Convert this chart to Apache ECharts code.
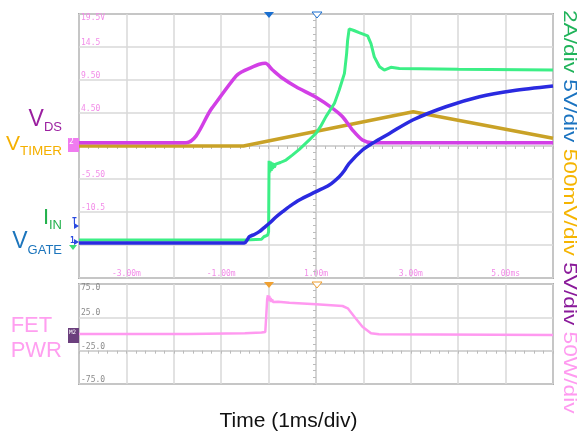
<!DOCTYPE html>
<html>
<head>
<meta charset="utf-8">
<script src="https://cdn.jsdelivr.net/npm/echarts@6/dist/echarts.min.js"></script>
<style>
html,body{margin:0;padding:0;background:#fff;}
#chart{width:577px;height:437px;}
</style>
</head>
<body>
<div id="chart"></div>
<script>
// ---- data (time in ms, values in channel units) ----
const vdsData = [[-4,0],[-1.743,0],[-1.2,5.2],[-0.688,10.1],[-0.55,10.8],[-0.407,11.27],[-0.196,11.88],[-0.07,12.03],[0.084,11.02],[0.295,9.76],[0.578,8.48],[1.0,6.88],[1.35,5.21],[1.56,3.94],[1.77,1.92],[1.98,0.41],[2.19,0],[6,0]];
const vtimerData = [[-4,0],[-0.53,0],[3.05,0.52],[6,0.117]];
const iinData = [[-4,0.1],[-0.5,0.1],[-0.15,0.15],[-0.1,0.3],[-0.02,0.4],[0.0,0.6],[0.01,4.9],[0.025,4.2],[0.04,4.85],[0.055,4.3],[0.07,4.8],[0.085,4.4],[0.1,4.75],[0.12,4.5],[0.15,4.7],[0.25,4.8],[0.367,4.95],[0.5,5.25],[0.648,5.6],[0.859,6.17],[1.0,6.57],[1.1,7.0],[1.21,7.58],[1.39,8.39],[1.49,9.19],[1.6,10.2],[1.646,11.4],[1.667,12.2],[1.70,12.9],[1.8,12.8],[1.91,12.67],[2.09,12.47],[2.16,12.0],[2.23,11.2],[2.34,10.6],[2.44,10.4],[2.58,10.57],[2.76,10.5],[4,10.45],[6,10.4]];
const vgateData = [[-4,0],[-0.513,0],[-0.45,0.5],[-0.407,0.96],[-0.3,1.3],[-0.196,1.72],[-0.1,2.3],[0.015,2.99],[0.15,3.9],[0.295,4.75],[0.45,5.6],[0.648,6.52],[1.0,7.78],[1.28,8.79],[1.49,10.05],[1.6,11.0],[1.70,12.08],[1.98,14.1],[2.19,15.1],[2.55,16.6],[3.04,18.64],[3.74,20.65],[4.45,22.17],[5.15,23.08],[6,23.79]];
const fetPwrData = [[-4,0],[-1.7,0],[-0.5,1.2],[-0.15,2.2],[-0.07,3],[-0.055,21],[-0.03,52],[-0.015,58],[0.0,50],[0.015,57],[0.03,49],[0.045,54],[0.06,48],[0.075,52],[0.09,48],[0.12,50],[0.2,48.5],[0.437,47],[1.0,44.5],[1.56,42],[1.67,38.5],[1.81,26],[1.98,11],[2.16,1],[2.33,-0.5],[6,-1.5]];

// tick labels
const xLabelValues = [-3,-1,1,3,5];
const xLabelTexts = ['-3.00m','-1.00m','1.00m','3.00m','5.00ms'];
const topYLabelTexts = ['','','-10.5','-5.50','','4.50','9.50','14.5','19.5V']; // divisions -4..4
const botYLabelTexts = ['-75.0','-25.0','25.0','75.0'];                        // divisions 0..3
const scaleTexts = ['2A/div','5V/div','500mV/div','5V/div','50W/div'];

// ---- styles ----
const C = {
  vds:'#d23fe6', vtimer:'#c9a227', iin:'#3cef86', vgate:'#2a2ae0', pwr:'#ff99f0',
  lblVds:'#9b1fa0', lblTimer:'#f5b000', lblIin:'#22b14c', lblGate:'#1c75bc', lblPwr:'#ff9ff0'
};
const gridLine = {show:true, lineStyle:{color:'#d9d9d9', width:1.5}};
const monoFont = 'DejaVu Sans Mono';

function hiddenY(grid, min, max){ return {gridIndex:grid, type:'value', min:min, max:max, show:false, axisLine:{onZero:false}}; }
function hiddenX(grid, min, max){ return {gridIndex:grid, type:'value', min:min, max:max, show:false, axisLine:{onZero:false}}; }
function tickLine(grid, min, max, zeroIdx){
  return {gridIndex:grid, type:'value', min:min, max:max, interval:1,
    axisLine:{show:true, onZero:true, onZeroAxisIndex:zeroIdx, lineStyle:{color:'#d0d0d0', width:1.5}},
    axisTick:{show:true, inside:true, length:3, lineStyle:{color:'#bbb'}},
    minorTick:{show:true, splitNumber:5, length:3, lineStyle:{color:'#bbb'}},
    axisLabel:{show:false}, splitLine:{show:false}, z:1};
}

const xAxes = [
  {gridIndex:0, type:'value', min:-4, max:6, interval:1, position:'bottom',
   axisLine:{show:false, onZero:false}, axisTick:{show:false}, splitLine:gridLine,
   axisLabel:{inside:true, margin:0, fontFamily:monoFont, fontSize:8, color:'#f28ce8',
     formatter:v=>{const i=xLabelValues.indexOf(Math.round(v)); return i>=0?xLabelTexts[i]:'';}}},
  hiddenX(0,-5,5),
  tickLine(0,-4,6,0),
  {gridIndex:1, type:'value', min:-4, max:6, interval:1, position:'bottom',
   axisLine:{show:false, onZero:false}, axisTick:{show:false}, splitLine:gridLine, axisLabel:{show:false}},
  hiddenX(1,-5,5),
  tickLine(1,-4,6,9)
];
const yAxes = [
  {gridIndex:0, type:'value', min:-4, max:4, interval:1, position:'left',
   axisLine:{show:false, onZero:false}, axisTick:{show:false}, splitLine:gridLine,
   axisLabel:{inside:true, margin:2, verticalAlign:'bottom', fontFamily:monoFont, fontSize:8, color:'#f28ce8',
     formatter:v=>(Math.round(v)===4?'':topYLabelTexts[Math.round(v)+4])}},
  {gridIndex:0, type:'value', min:-4, max:4, interval:1, position:'left',
   axisLine:{show:false, onZero:false}, axisTick:{show:false}, splitLine:{show:false},
   axisLabel:{inside:true, margin:2, verticalAlign:'top', fontFamily:monoFont, fontSize:8, color:'#f28ce8',
     formatter:v=>(Math.round(v)===4?topYLabelTexts[8]:'')}},
  tickLine(0,-4,4,1),
  hiddenY(0,-20.5,19.5),   // 3 VDS 5V/div
  hiddenY(0,-2,2),         // 4 VTIMER 500mV/div
  hiddenY(0,-2.2,13.8),    // 5 IIN 2A/div
  hiddenY(0,-5.3,34.7),    // 6 VGATE 5V/div
  {gridIndex:1, type:'value', min:0, max:3, interval:1, position:'left',
   axisLine:{show:false, onZero:false}, axisTick:{show:false}, splitLine:gridLine,
   axisLabel:{inside:true, margin:2, verticalAlign:'bottom', fontFamily:monoFont, fontSize:8, color:'#8a8a8a',
     formatter:v=>(Math.round(v)===3?'':botYLabelTexts[Math.round(v)])}},
  {gridIndex:1, type:'value', min:0, max:3, interval:1, position:'left',
   axisLine:{show:false, onZero:false}, axisTick:{show:false}, splitLine:{show:false},
   axisLabel:{inside:true, margin:2, verticalAlign:'top', fontFamily:monoFont, fontSize:8, color:'#8a8a8a',
     formatter:v=>(Math.round(v)===3?botYLabelTexts[3]:'')}},
  hiddenY(1,-1,2),         // 9 ref (zero at centre tick line)
  tickLine(1,-1.5,1.5,4),
  hiddenY(1,-75,75)        // 11 FET PWR 50W/div
];

function line(name, data, xi, yi, color, width, smooth){
  return {name:name, type:'line', data:data, xAxisIndex:xi, yAxisIndex:yi, showSymbol:false,
    smooth:smooth||false, lineStyle:{color:color, width:width}, itemStyle:{color:color}, z:5, silent:true};
}

function leftLabel(main, sub, color, right, baseline, mainSize, subSize){
  return {type:'text', right:577-right, top:baseline-mainSize*0.93, z:20,
    style:{text:'{a|'+main+'}{b|'+sub+'}', fill:color,
      rich:{a:{fontFamily:'Liberation Sans', fontSize:mainSize, fill:color, verticalAlign:'bottom'},
            b:{fontFamily:'Liberation Sans', fontSize:subSize, fill:color, verticalAlign:'bottom', padding:[0,0,-3,0]}}}};
}

const rs = 22.7;
const graphics = [
  leftLabel('V','DS',C.lblVds,62,129.5,23,13),
  leftLabel('V','TIMER',C.lblTimer,62,153.5,21,13.5),
  leftLabel('I','IN',C.lblIin,62,227,22,13),
  leftLabel('V','GATE',C.lblGate,62,252,23,13),
  {type:'text', right:515, top:313, z:20, style:{text:'FET\nPWR', fill:C.lblPwr, font:'22px Liberation Sans', align:'right', lineHeight:25}},
  // right side scale texts (rotated, slightly compressed across)
  {type:'text', x:579, y:10, rotation:-Math.PI/2, scaleY:0.82, z:20,
    style:{text:'{g|'+scaleTexts[0]+'} {b|'+scaleTexts[1]+'} {o|'+scaleTexts[2]+'} {p|'+scaleTexts[3]+'} {k|'+scaleTexts[4]+'}',
      font:rs+'px Liberation Sans', align:'left', verticalAlign:'top',
      rich:{g:{fill:'#1fb35a',fontSize:rs,fontFamily:'Liberation Sans'},b:{fill:'#1a73c0',fontSize:rs,fontFamily:'Liberation Sans'},
            o:{fill:'#f5b400',fontSize:rs,fontFamily:'Liberation Sans'},p:{fill:'#8a1a9a',fontSize:rs,fontFamily:'Liberation Sans'},
            k:{fill:'#ff9af0',fontSize:rs,fontFamily:'Liberation Sans'}}}},
  // x title
  {type:'text', left:'center', top:411, z:20, style:{text:'Time (1ms/div)', font:'21px Liberation Sans', fill:'#111'}},
  // channel markers (decorations)
  {type:'rect', shape:{x:68,y:138,width:11,height:14}, style:{fill:'#f07cf0'}, z:20},
  {type:'text', x:69, y:138, z:21, style:{text:'2', font:'8px DejaVu Sans Mono', fill:'#fff'}},
  {type:'text', x:72, y:218, z:21, style:{text:'T', font:'bold 8px DejaVu Sans Mono', fill:'#2a4ae0'}},
  {type:'polygon', shape:{points:[[74,223],[79,226],[74,229]]}, style:{fill:'#2a4ae0'}, z:21},
  {type:'text', x:70, y:237, z:21, style:{text:'1', font:'bold 8px DejaVu Sans Mono', fill:'#2a4ae0'}},
  {type:'polygon', shape:{points:[[74,239],[79,242],[74,245]]}, style:{fill:'#2a4ae0'}, z:21},
  {type:'polygon', shape:{points:[[69,245],[77,245],[73,250]]}, style:{fill:'#3cdc78'}, z:21},
  {type:'rect', shape:{x:68,y:328,width:11,height:15}, style:{fill:'#6b3f7d'}, z:20},
  {type:'text', x:69, y:329, z:21, style:{text:'M2', font:'6px DejaVu Sans Mono', fill:'#fff'}},
  {type:'polygon', shape:{points:[[264,12],[274,12],[269,18]]}, style:{fill:'#1a6fd0'}, z:21},
  {type:'polygon', shape:{points:[[312,12],[322,12],[317,18]]}, style:{fill:'#fff', stroke:'#1a6fd0', lineWidth:1}, z:21},
  {type:'polygon', shape:{points:[[264,282],[274,282],[269,288]]}, style:{fill:'#f0a030'}, z:21},
  {type:'polygon', shape:{points:[[312,282],[322,282],[317,288]]}, style:{fill:'#fff', stroke:'#f0a030', lineWidth:1}, z:21}
];

const chart = echarts.init(document.getElementById('chart'), null, {renderer:'canvas'});
chart.setOption({
  animation:false,
  backgroundColor:'#fff',
  grid:[
    {left:79, top:14, width:474, height:264, show:true, borderColor:'#6a6a6a', borderWidth:1.5, backgroundColor:'#fff', containLabel:false},
    {left:79, top:284, width:474, height:100, show:true, borderColor:'#6a6a6a', borderWidth:1.5, backgroundColor:'#fff', containLabel:false}
  ],
  xAxis:xAxes,
  yAxis:yAxes,
  series:[
    line('VTIMER', vtimerData, 0, 4, C.vtimer, 3.5),
    line('VDS', vdsData, 0, 3, C.vds, 3.5, 0.3),
    line('IIN', iinData, 0, 5, C.iin, 3),
    line('VGATE', vgateData, 0, 6, C.vgate, 3.5, 0.3),
    line('FET PWR', fetPwrData, 3, 11, C.pwr, 2.5)
  ],
  graphic:graphics
});
</script>
</body>
</html>
